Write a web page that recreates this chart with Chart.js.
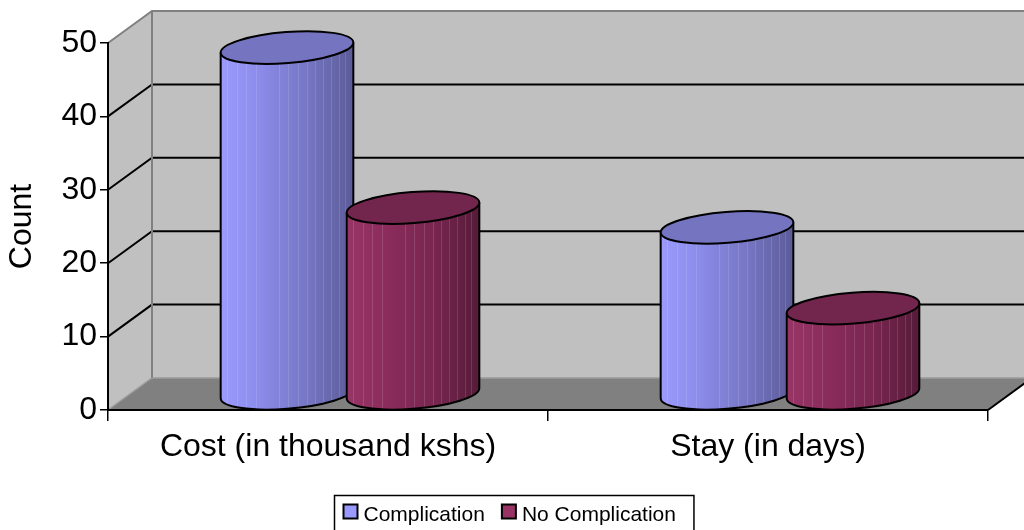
<!DOCTYPE html>
<html>
<head>
<meta charset="utf-8">
<script src="https://cdn.jsdelivr.net/npm/chart.js@4.4.1/dist/chart.umd.min.js"></script>
<style>
  html, body { margin: 0; padding: 0; background: #ffffff; }
  #wrap { width: 1024px; height: 530px; }
</style>
</head>
<body>
<div id="wrap"><canvas id="chart" width="1024" height="530"></canvas></div>
<script>
// ---- data ----
const categories = ['Cost (in thousand kshs)', 'Stay (in days)'];
const seriesNames = ['Complication', 'No Complication'];
const complication = [47.2, 22.7];
const noComplication = [25.4, 11.7];
const yTickValues = [0, 10, 20, 30, 40, 50];

// ---- styling ----
const FONT = '"Liberation Sans", Arial, sans-serif';
const legendColors = ['#9999FF', '#993366'];
const bodyStops = [
  [[0, '#9B9BFF'], [0.3, '#8B8BE9'], [0.65, '#7676C4'], [1, '#5B5B98']],
  [[0, '#973566'], [0.3, '#8A2C5C'], [0.65, '#792650'], [1, '#551B38']]
];
const topColors = ['#7474C0', '#73264D'];
const DEPTH_X = 44, DEPTH_Y = -32;   // back wall offset
const ELL_RY = 15.5, ELL_ROT = -0.08;
const stripeFractions = [0.05, 0.12, 0.19, 0.27, 0.44, 0.51, 0.58, 0.65, 0.71, 0.77, 0.83, 0.89, 0.94];

// walls, floor and back gridlines
const wallsPlugin = {
  id: 'walls',
  beforeDraw(chart) {
    const ctx = chart.ctx;
    const area = chart.chartArea;
    const ys = chart.scales.y;
    const W = chart.width;
    const x0 = area.left, x1 = area.right;
    const yTop = ys.getPixelForValue(ys.max);
    const yBot = ys.getPixelForValue(0);
    const bx0 = x0 + DEPTH_X;
    ctx.save();
    // back wall
    ctx.fillStyle = '#C0C0C0';
    ctx.fillRect(bx0, yTop + DEPTH_Y, W - bx0, yBot - yTop);
    // side wall
    ctx.beginPath();
    ctx.moveTo(x0, yTop);
    ctx.lineTo(bx0, yTop + DEPTH_Y);
    ctx.lineTo(bx0, yBot + DEPTH_Y);
    ctx.lineTo(x0, yBot);
    ctx.closePath();
    ctx.fill();
    // floor
    ctx.fillStyle = '#808080';
    ctx.beginPath();
    ctx.moveTo(x0, yBot);
    ctx.lineTo(bx0, yBot + DEPTH_Y);
    ctx.lineTo(x1 + DEPTH_X, yBot + DEPTH_Y);
    ctx.lineTo(x1, yBot);
    ctx.closePath();
    ctx.fill();
    // gridlines
    ctx.strokeStyle = '#000000';
    ctx.lineWidth = 2;
    yTickValues.forEach(v => {
      if (v === 0 || v === ys.max) return;
      const yp = ys.getPixelForValue(v);
      ctx.beginPath();
      ctx.moveTo(x0, yp);
      ctx.lineTo(bx0, yp + DEPTH_Y);
      ctx.lineTo(W, yp + DEPTH_Y);
      ctx.stroke();
    });
    // wall edges
    ctx.strokeStyle = '#808080';
    ctx.lineWidth = 2;
    ctx.beginPath();
    ctx.moveTo(x0, yTop);
    ctx.lineTo(bx0, yTop + DEPTH_Y);
    ctx.lineTo(W, yTop + DEPTH_Y);
    ctx.moveTo(bx0, yTop + DEPTH_Y);
    ctx.lineTo(bx0, yBot + DEPTH_Y);
    ctx.stroke();
    ctx.strokeStyle = '#9A9A9A';
    ctx.lineWidth = 1.5;
    ctx.beginPath();
    ctx.moveTo(x0, yBot);
    ctx.lineTo(bx0, yBot + DEPTH_Y);
    ctx.lineTo(x1 + DEPTH_X, yBot + DEPTH_Y);
    ctx.stroke();
    ctx.strokeStyle = '#000000';
    ctx.lineWidth = 2;
    ctx.beginPath();
    ctx.moveTo(x1, yBot);
    ctx.lineTo(x1 + DEPTH_X, yBot + DEPTH_Y);
    ctx.stroke();
    ctx.restore();
  }
};

function extremePoint(rx, ry, rot) {
  const t0 = Math.atan2(-ry * Math.sin(rot), rx * Math.cos(rot));
  return {
    t0,
    px: rx * Math.cos(t0) * Math.cos(rot) - ry * Math.sin(t0) * Math.sin(rot),
    py: rx * Math.cos(t0) * Math.sin(rot) + ry * Math.sin(t0) * Math.cos(rot)
  };
}

function drawCylinder(ctx, cx, topY, botY, rx, series) {
  const ry = ELL_RY, rot = ELL_ROT;
  const { t0, px, py } = extremePoint(rx, ry, rot);
  const body = new Path2D();
  body.moveTo(cx - px, topY - py);
  body.lineTo(cx - px, botY - py);
  body.ellipse(cx, botY, rx, ry, rot, Math.PI + t0, t0, true);
  body.lineTo(cx + px, topY + py);
  body.ellipse(cx, topY, rx, ry, rot, t0, Math.PI + t0, true);
  body.closePath();

  const g = ctx.createLinearGradient(cx - px, 0, cx + px, 0);
  bodyStops[series].forEach(s => g.addColorStop(s[0], s[1]));
  ctx.fillStyle = g;
  ctx.fill(body);

  // faint vertical facets
  ctx.save();
  ctx.clip(body);
  ctx.strokeStyle = 'rgba(255,255,255,0.13)';
  ctx.lineWidth = 1;
  stripeFractions.forEach(f => {
    const sx = Math.round(cx - px + f * 2 * px) + 0.5;
    ctx.beginPath();
    ctx.moveTo(sx, topY - ry - 5);
    ctx.lineTo(sx, botY + ry + 5);
    ctx.stroke();
  });
  ctx.restore();

  // outline of the side and front base
  ctx.strokeStyle = '#000000';
  ctx.lineWidth = 2;
  ctx.beginPath();
  ctx.moveTo(cx - px, topY - py);
  ctx.lineTo(cx - px, botY - py);
  ctx.ellipse(cx, botY, rx, ry, rot, Math.PI + t0, t0, true);
  ctx.lineTo(cx + px, topY + py);
  ctx.stroke();

  // top face
  ctx.beginPath();
  ctx.ellipse(cx, topY, rx, ry, rot, 0, Math.PI * 2);
  ctx.fillStyle = topColors[series];
  ctx.fill();
  ctx.stroke();
}

// cylinders placed from the bar elements
const cylinderPlugin = {
  id: 'cylinders',
  afterDatasetsDraw(chart) {
    const ctx = chart.ctx;
    const metas = chart.data.datasets.map((d, i) => chart.getDatasetMeta(i));
    ctx.save();
    categories.forEach((c, idx) => {
      metas.forEach((meta, s) => {
        const el = meta.data[idx];
        const p = el.getProps(['x', 'y', 'base', 'width'], true);
        drawCylinder(ctx, p.x + DEPTH_X / 2, p.y + DEPTH_Y / 2, p.base + DEPTH_Y / 2, p.width / 2, s);
      });
    });
    ctx.restore();
  }
};

// boxed legend under the plot
const boxLegendPlugin = {
  id: 'boxLegend',
  afterDraw(chart) {
    const ctx = chart.ctx;
    ctx.save();
    ctx.font = '21px ' + FONT;
    const sq = 14, gapSq = 5, gapItem = 16, padL = 8, padR = 18;
    const widths = chart.data.datasets.map(d => ctx.measureText(d.label).width);
    let total = padL + padR;
    widths.forEach((w, i) => { total += sq + 2 + gapSq + w + (i ? gapItem : 0); });
    const left = Math.round(514 - total / 2) + 0.5;
    const top = 495.5;
    ctx.strokeStyle = '#000000';
    ctx.lineWidth = 1.5;
    ctx.strokeRect(left, top, total, 60);
    let x = left + padL;
    chart.data.datasets.forEach((d, i) => {
      if (i) x += gapItem;
      ctx.fillStyle = legendColors[i];
      ctx.fillRect(x + 1, top + 9, sq, sq);
      ctx.lineWidth = 2;
      ctx.strokeRect(x + 1, top + 9, sq, sq);
      x += sq + 2 + gapSq;
      ctx.fillStyle = '#000000';
      ctx.textBaseline = 'alphabetic';
      ctx.fillText(d.label, x, top + 25);
      x += widths[i];
    });
    ctx.restore();
  }
};

new Chart(document.getElementById('chart'), {
  type: 'bar',
  data: {
    labels: categories,
    datasets: [
      { label: seriesNames[0], data: complication, backgroundColor: 'rgba(0,0,0,0)' },
      { label: seriesNames[1], data: noComplication, backgroundColor: 'rgba(0,0,0,0)' }
    ]
  },
  options: {
    responsive: false,
    animation: false,
    layout: { padding: { top: 43, right: 36, bottom: 0, left: 0 } },
    datasets: { bar: { categoryPercentage: 0.5727, barPercentage: 1.056, borderWidth: 0 } },
    plugins: {
      legend: { display: false },
      tooltip: { enabled: false }
    },
    scales: {
      x: {
        afterFit(scale) { scale.height = 120; },
        grid: { offset: true, drawOnChartArea: false, drawTicks: true, tickLength: 11, color: '#000000', lineWidth: 1.5 },
        border: { display: true, color: '#000000', width: 2 },
        ticks: { color: '#000000', padding: 7, font: { family: FONT, size: 32 } }
      },
      y: {
        min: 0,
        max: 50,
        afterFit(scale) { scale.width = 108; },
        afterBuildTicks(scale) { scale.ticks = yTickValues.map(v => ({ value: v })); },
        grid: { drawOnChartArea: false, drawTicks: true, tickLength: 8, color: '#000000', lineWidth: 1.5 },
        border: { display: true, color: '#000000', width: 2 },
        ticks: { color: '#000000', padding: 3, font: { family: FONT, size: 32 } },
        title: { display: true, text: 'Count', color: '#000000', padding: { top: 3, bottom: 0 }, font: { family: FONT, size: 32 } }
      }
    }
  },
  plugins: [wallsPlugin, cylinderPlugin, boxLegendPlugin]
});
</script>
</body>
</html>
